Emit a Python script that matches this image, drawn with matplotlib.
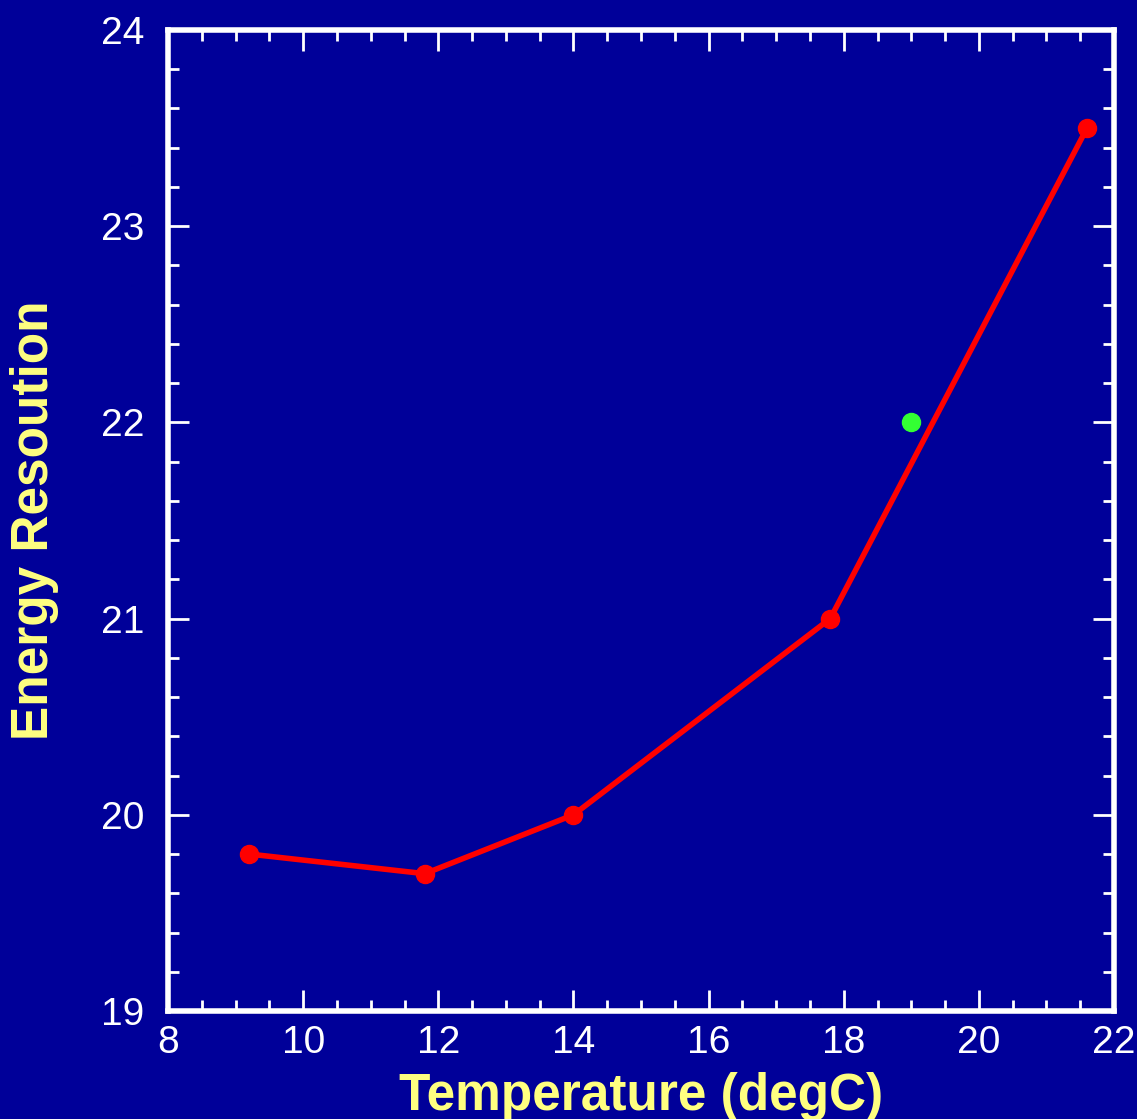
import matplotlib
matplotlib.use("Agg")
import matplotlib.pyplot as plt
from matplotlib.ticker import MultipleLocator

plt.rcParams['font.family'] = ['Liberation Sans', 'DejaVu Sans']

temperature = [9.2, 11.8, 14.0, 17.8, 21.6]
resolution = [19.8, 19.7, 20.0, 21.0, 23.5]
extra_temp = [19.0]
extra_res = [22.0]

bg = '#000099'
fig = plt.figure(figsize=(11.37, 11.19), dpi=100, facecolor=bg)
ax = fig.add_axes([0.1478, 0.0965, 0.832, 0.8767], facecolor=bg)

ax.plot(temperature, resolution, color='#ff0000', lw=4, marker='o', ms=13, zorder=3)
ax.plot(extra_temp, extra_res, 'o', color='#33ff33', ms=13, zorder=3)

ax.set_xlim(8, 22)
ax.set_ylim(19, 24)
ax.xaxis.set_major_locator(MultipleLocator(2))
ax.xaxis.set_minor_locator(MultipleLocator(0.5))
ax.yaxis.set_major_locator(MultipleLocator(1))
ax.yaxis.set_minor_locator(MultipleLocator(0.2))

for s in ax.spines.values():
    s.set_color('white')
    s.set_linewidth(4)
ax.tick_params(which='both', direction='in', top=True, right=True, colors='white',
               labelsize=28, width=2)
ax.tick_params(which='major', length=15)
ax.tick_params(axis='x', which='major', pad=10)
ax.tick_params(axis='y', which='major', pad=17)
ax.tick_params(which='minor', length=8)

ax.set_xlabel('Temperature (degC)', color='#ffff80', fontsize=37, fontweight='bold', labelpad=8)
ax.set_ylabel('Energy Resoution', color='#ffff80', fontsize=37, fontweight='bold', labelpad=30)

fig.savefig('out.png', dpi=100, facecolor=bg)
